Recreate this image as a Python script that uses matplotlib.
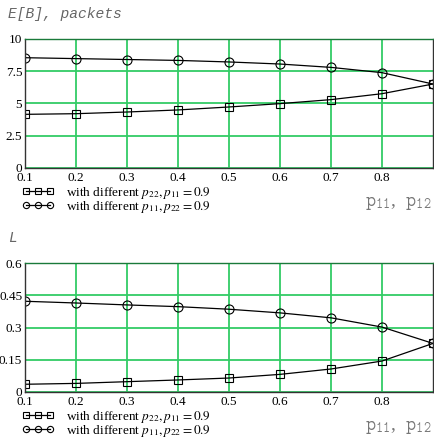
import matplotlib
matplotlib.use("Agg")
import matplotlib.pyplot as plt

plt.rcParams["font.family"] = ["Liberation Serif", "DejaVu Serif"]
plt.rcParams["mathtext.fontset"] = "stix"

# x values shared by both panels
p = [0.1, 0.2, 0.3, 0.4, 0.5, 0.6, 0.7, 0.8, 0.9]

# E[B], packets
eb_p22 = [4.16, 4.21, 4.34, 4.50, 4.73, 4.99, 5.30, 5.76, 6.51]
eb_p11 = [8.55, 8.48, 8.41, 8.34, 8.22, 8.06, 7.80, 7.39, 6.51]

# L
l_p22 = [0.036, 0.040, 0.048, 0.056, 0.065, 0.082, 0.107, 0.144, 0.226]
l_p11 = [0.422, 0.414, 0.405, 0.397, 0.385, 0.368, 0.345, 0.302, 0.226]

x_ticks = [0.1, 0.2, 0.3, 0.4, 0.5, 0.6, 0.7, 0.8]
eb_ticks = [0, 2.5, 5, 7.5, 10]
eb_labels = ["0", "2.5", "5", "7.5", "10"]
l_ticks = [0, 0.15, 0.3, 0.45, 0.6]
l_labels = ["0", "0.15", "0.3", "0.45", "0.6"]

leg1 = r"with different $p_{22}, p_{11} = 0.9$"
leg2 = r"with different $p_{11}, p_{22} = 0.9$"

W, H = 434, 438
fig = plt.figure(figsize=(W / 100, H / 100), dpi=100)

grid_col = "#33cc66"
mono = ["Liberation Mono", "DejaVu Sans Mono"]


def panel(top_px, bot_px, y1, y2, ticks, labels, ylim, ylabel, label_y, xl_y):
    left, right = 25, 433
    ax = fig.add_axes([left / W, 1 - bot_px / H, (right - left) / W, (bot_px - top_px) / H])
    l1, = ax.plot(p, y1, color="black", lw=0.9, marker="s", ms=6, mfc="none", mec="black", mew=0.8)
    l2, = ax.plot(p, y2, color="black", lw=0.9, marker="o", ms=6.5, mfc="none", mec="black", mew=0.8)
    ax.set_xlim(0.1, 0.9)
    ax.set_ylim(*ylim)
    ax.set_xticks(x_ticks)
    ax.set_xticklabels([str(t) for t in x_ticks])
    ax.set_yticks(ticks)
    ax.set_yticklabels(labels)
    ax.grid(True, color=grid_col, lw=1.3)
    ax.set_axisbelow(True)
    ax.tick_params(length=0, labelsize=9.5)
    ax.tick_params(axis="x", pad=3)
    ax.tick_params(axis="y", pad=2)
    for s in ax.spines.values():
        s.set_color("#333333")
        s.set_linewidth(1.0)
    ax.spines["top"].set_color("#1a7a3a")
    fig.text(8 / W, 1 - label_y / H, ylabel, fontsize=10.5, color="#666666",
             family=mono, style="italic", va="center", ha="left")
    fig.text(432 / W, 1 - xl_y / H, r"$\mathtt{p}_{\mathtt{11}}$,  $\mathtt{p}_{\mathtt{12}}$",
             fontsize=14, color="#777777", va="center", ha="right")

    # two one-row legends, placed under the axes
    for k, (line, txt) in enumerate([(l1, leg1), (l2, leg2)]):
        yc = bot_px + 25 + 14 * k
        leg = fig.legend([line], [txt], loc="center left",
                         bbox_to_anchor=(22 / W, 1 - yc / H),
                         frameon=False, numpoints=3, fontsize=9.5, handlelength=2.4,
                         handletextpad=0.9, borderaxespad=0, borderpad=0)
        for h in leg.legend_handles:
            h.set_markersize(4.5)
    return ax


panel(39, 168, eb_p22, eb_p11, eb_ticks, eb_labels, (0, 10), "E[B], packets", 14, 203)
panel(263, 392, l_p22, l_p11, l_ticks, l_labels, (0, 0.6), "L", 238, 427)

fig.savefig("out.png", dpi=100)
